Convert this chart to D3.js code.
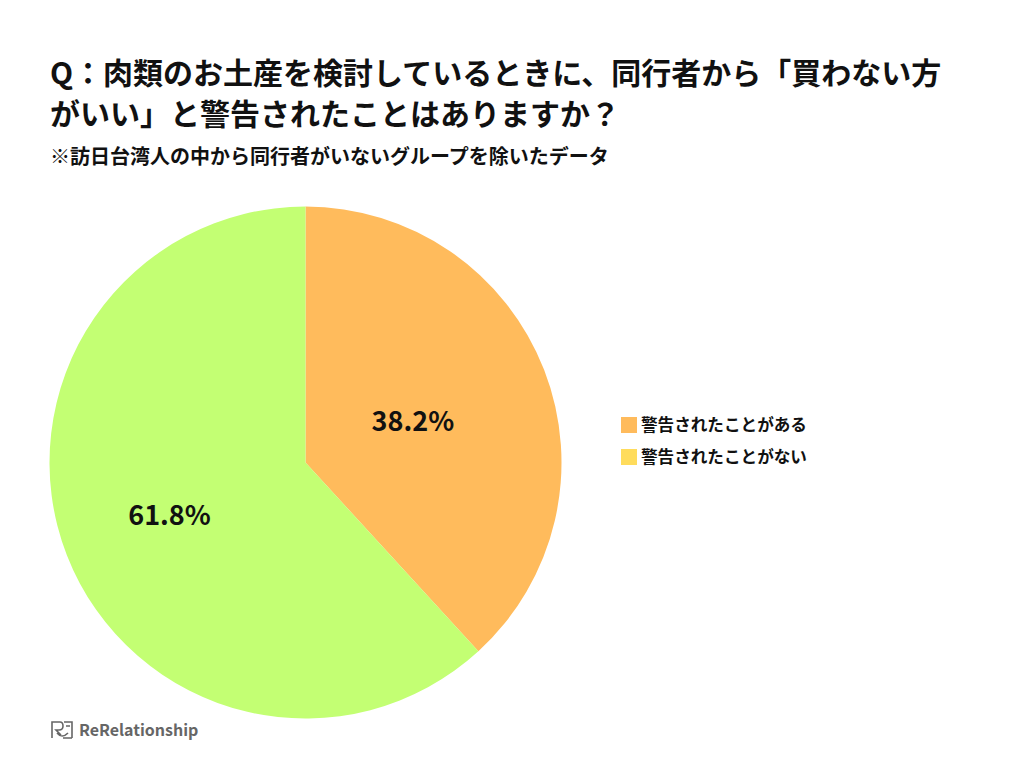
<!DOCTYPE html>
<html>
<head>
  <meta charset="utf-8">
  <title>Pie</title>
  <script src="https://cdn.jsdelivr.net/npm/d3@7"></script>
  <style>
    body { margin: 0; background: #fff; }
    text { font-family: "Noto Sans CJK JP", "Noto Sans", sans-serif; }
  </style>
</head>
<body>
  <svg width="1024" height="768" id="mainsvg"></svg>
  <script>
    const categories = ['警告されたことがある', '警告されたことがない'];
    const values = [38.2, 61.8];
    const sliceColors = ['#ffbb5c', '#c3ff73'];
    const legendColors = ['#ffbb5c', '#ffdc5c'];
    const labelRadius = [0.45, 0.57];
    const titleLines = ['Q：肉類のお土産を検討しているときに、同行者から「買わない方', 'がいい」と警告されたことはありますか？'];
    const subtitle = '※訪日台湾人の中から同行者がいないグループを除いたデータ';

    const svg = d3.select('#mainsvg');
    const cx = 305.5, cy = 462.5, radius = 256;

    svg.selectAll('text.title').data(titleLines).join('text')
      .attr('class', 'title')
      .attr('x', 50)
      .attr('y', (d, i) => 84 + i * 41)
      .attr('font-size', 30)
      .attr('font-weight', 'bold')
      .attr('fill', '#111')
      .text(d => d);

    svg.append('text')
      .attr('x', 50).attr('y', 164)
      .attr('font-size', 20)
      .attr('font-weight', 'bold')
      .attr('fill', '#111')
      .text(subtitle);

    const pie = d3.pie().sort(null).value(d => d);
    const arcs = pie(values);
    const arc = d3.arc().innerRadius(0).outerRadius(radius);

    const g = svg.append('g').attr('transform', `translate(${cx},${cy})`);
    g.selectAll('path').data(arcs).join('path')
      .attr('d', arc)
      .attr('fill', (d, i) => sliceColors[i]);

    g.selectAll('text').data(arcs).join('text')
      .attr('transform', (d, i) => {
        const r = radius * labelRadius[i];
        return `translate(${d3.arc().innerRadius(r).outerRadius(r).centroid(d)})`;
      })
      .attr('text-anchor', 'middle')
      .attr('dy', '0.36em')
      .attr('font-size', 27)
      .attr('font-weight', 'bold')
      .attr('fill', '#111')
      .text(d => d.value.toFixed(1) + '%');

    const legend = svg.append('g').attr('transform', 'translate(621,417)');
    const items = legend.selectAll('g').data(categories).join('g')
      .attr('transform', (d, i) => `translate(0,${i * 32})`);
    items.append('rect')
      .attr('width', 16).attr('height', 16)
      .attr('fill', (d, i) => legendColors[i]);
    items.append('text')
      .attr('x', 20).attr('y', 8)
      .attr('dy', '0.36em')
      .attr('font-size', 16.6)
      .attr('font-weight', 'bold')
      .attr('fill', '#111')
      .text(d => d);

    // logo
    const logo = svg.append('g').attr('transform', 'translate(50,720)');
    logo.append('path')
      .attr('d', 'M2,18 V2 H10 Q13,2 13,6 Q13,10 9,10 H6 L11,15 M22,18 V2 H14 M13,18 H22 M7,13 Q12,19 18,13 M16,6 H20')
      .attr('fill', 'none')
      .attr('stroke', '#666')
      .attr('stroke-width', 1.6);
    logo.append('text')
      .attr('x', 29).attr('y', 16)
      .attr('font-size', 16)
      .attr('font-weight', 'bold')
      .attr('fill', '#666')
      .text('ReRelationship');
  </script>
</body>
</html>
